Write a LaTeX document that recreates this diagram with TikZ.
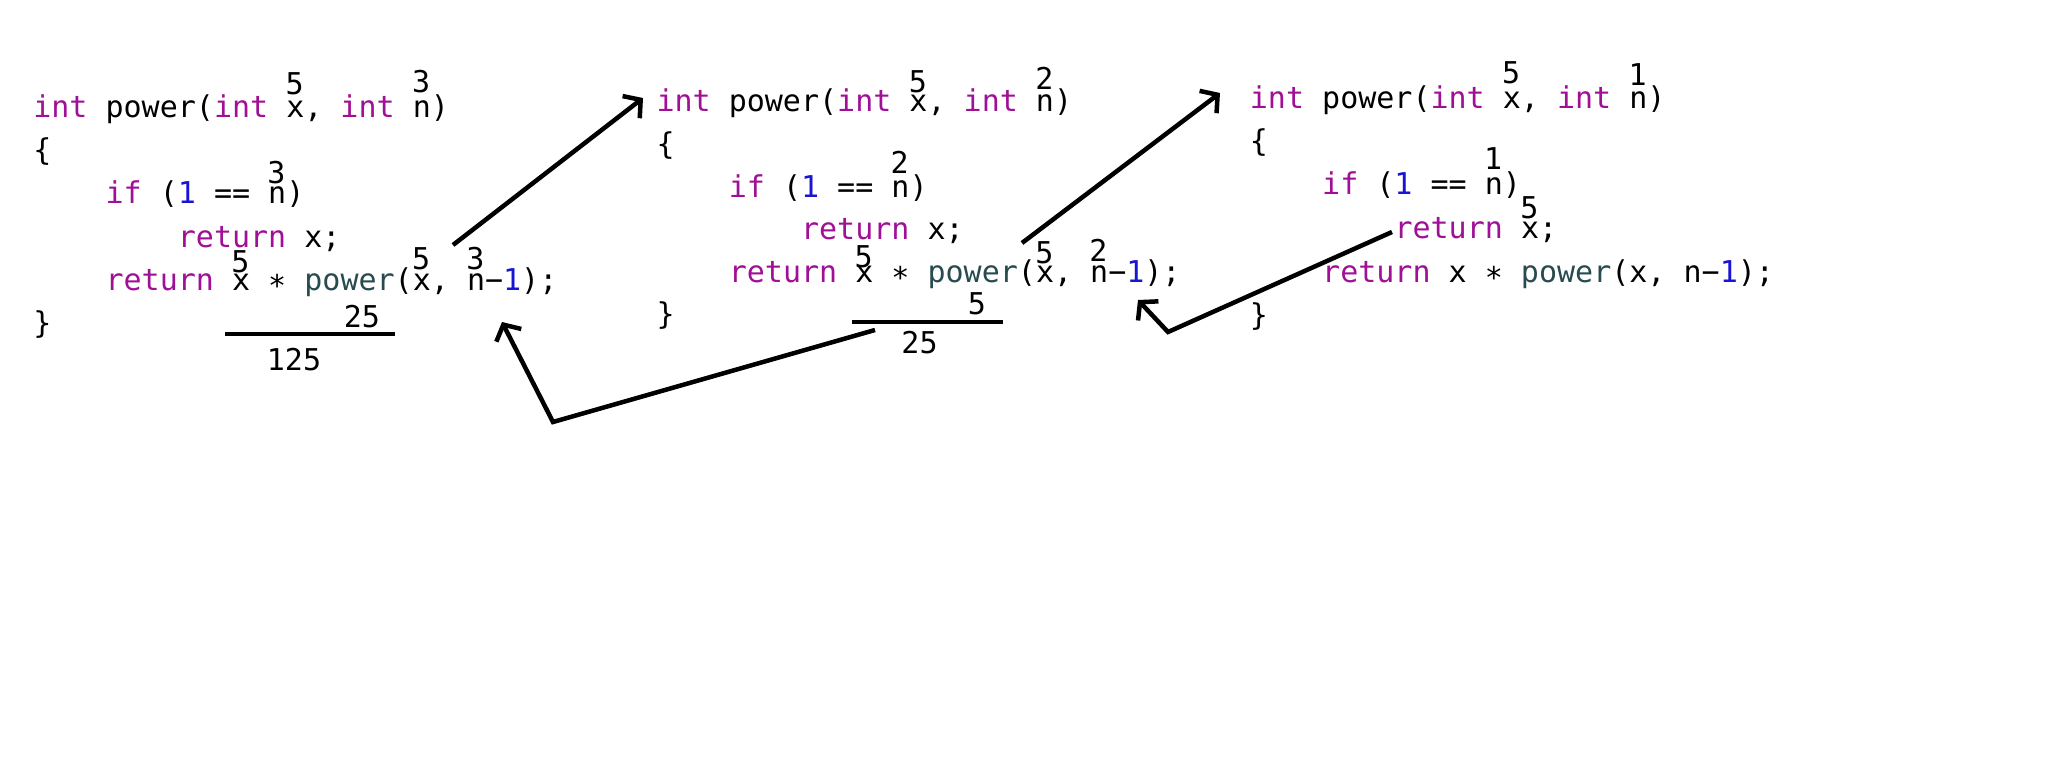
\documentclass[tikz,border=0pt]{standalone}
\usepackage{fontspec}
\usetikzlibrary{arrows.meta}
\newfontfamily\codefont{DejaVu Sans Mono}
\definecolor{kwcol}{RGB}{160,16,150}
\definecolor{numcol}{RGB}{25,20,210}
\definecolor{fncol}{RGB}{40,75,80}
\newcommand{\kwd}[1]{\textcolor{kwcol}{#1}}
\newcommand{\numl}[1]{\textcolor{numcol}{#1}}
\newcommand{\fcall}[1]{\textcolor{fncol}{#1}}
\frenchspacing
\tikzset{
  code/.style={anchor=base west,inner sep=0pt,font=\codefont\fontsize{8.54pt}{10pt}\selectfont},
  val/.style={anchor=base,inner sep=0pt,font=\codefont\fontsize{8.54pt}{10pt}\selectfont},
  sumline/.style={line width=0.045cm},
  callarrow/.style={line width=0.045cm,-{Straight Barb[length=0.12cm,width=0.28cm]}}
}
\begin{document}
\begin{tikzpicture}
        \useasboundingbox (0,0) rectangle (20.48,-7.68);

        \node[code] (L1) at (0.326,-1.18) {\kwd{int} power(\kwd{int} x, \kwd{int} n)};
        \node[code] (L2) at (0.326,-1.61) {\{};
        \node[code] (L3) at (1.049,-2.04) {\kwd{if} (\numl{1} == n)};
        \node[code] (L4) at (1.772,-2.47) {\kwd{return} x;};
        \node[code] (L5) at (1.049,-2.90) {\kwd{return} x ∗ \fcall{power}(x, n−\numl{1});};
        \node[code] (L6) at (0.326,-3.33) {\}};

        \node[val] (X1) at (2.946,-0.95) {5};
        \node[val] (N1) at (4.211,-0.93) {3};
        \node[val] (IN1) at (2.765,-1.83) {3};
        \node[val] (RX1) at (2.404,-2.72) {5};
        \node[val] (CX1) at (4.211,-2.70) {5};
        \node[val] (CN1) at (4.753,-2.69) {3};

        %the second call
        \node[code] (M1) at (6.558,-1.12) {\kwd{int} power(\kwd{int} x, \kwd{int} n)};
        \node[code] (M2) at (6.558,-1.545) {\{};
        \node[code] (M3) at (7.281,-1.97) {\kwd{if} (\numl{1} == n)};
        \node[code] (M4) at (8.004,-2.395) {\kwd{return} x;};
        \node[code] (M5) at (7.281,-2.82) {\kwd{return} x ∗ \fcall{power}(x, n−\numl{1});};
        \node[code] (M6) at (6.558,-3.245) {\}};

        \node[val] (X2) at (9.178,-0.92) {5};
        \node[val] (N2) at (10.443,-0.89) {2};
        \node[val] (IN2) at (8.997,-1.73) {2};
        \node[val] (RX2) at (8.636,-2.67) {5};
        \node[val] (CX2) at (10.443,-2.63) {5};
        \node[val] (CN2) at (10.985,-2.62) {2};

        %and the last one
        \node[code] (R1) at (12.492,-1.08) {\kwd{int} power(\kwd{int} x, \kwd{int} n)};
        \node[code] (R2) at (12.492,-1.515) {\{};
        \node[code] (R3) at (13.215,-1.95) {\kwd{if} (\numl{1} == n)};
        \node[code] (R4) at (13.938,-2.385) {\kwd{return} x;};
        \node[code] (R5) at (13.215,-2.82) {\kwd{return} x ∗ \fcall{power}(x, n−\numl{1});};
        \node[code] (R6) at (12.492,-3.255) {\}};

        \node[val] (X3) at (15.112,-0.83) {5};
        \node[val] (N3) at (16.377,-0.85) {1};
        \node[val] (IN3) at (14.931,-1.70) {1};
        \node[val] (RX3) at (15.293,-2.18) {5};

        \coordinate (A) at (4.53,-2.45);
        \coordinate (B) at (6.43,-0.98);

        \coordinate (C) at (10.22,-2.43);
        \coordinate (D) at (12.20,-0.93);

        \coordinate (E) at (13.92,-2.32);
        \coordinate (F) at (11.68,-3.32);
        \coordinate (G) at (11.38,-3.00);

        \coordinate (H) at (8.75,-3.30);
        \coordinate (I) at (5.53,-4.22);
        \coordinate (J) at (5.02,-3.22);

        \coordinate (K) at (2.25,-3.34);
        \coordinate (L) at (3.95,-3.34);
        \coordinate (M) at (8.52,-3.22);
        \coordinate (N) at (10.03,-3.22);

        \draw[callarrow] (A) -- (B);
        \draw[callarrow] (C) -- (D);
        \draw[callarrow] (E) -- (F) -- (G);
        \draw[callarrow] (H) -- (I) -- (J);

        \draw[sumline] (K) -- (L);
        \draw[sumline] (M) -- (N);

        \node[val] (S1) at (3.62,-3.27) {25};
        \node[val] (T1) at (2.94,-3.70) {125};
        \node[val] (S2) at (9.77,-3.15) {5};
        \node[val] (T2) at (9.195,-3.53) {25};
\end{tikzpicture}
\end{document}
